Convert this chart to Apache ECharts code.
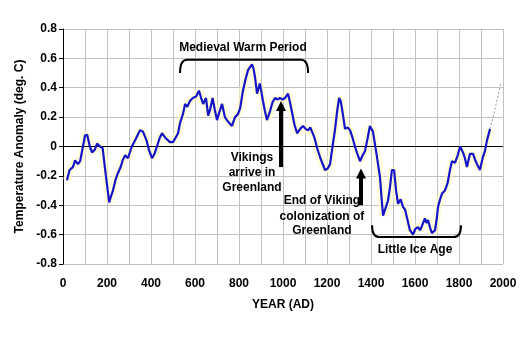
<!DOCTYPE html>
<html><head><meta charset="utf-8">
<script src="https://cdn.jsdelivr.net/npm/echarts@6/dist/echarts.min.js"></script>
<style>html,body{margin:0;padding:0;background:#fff}#c{width:529px;height:337px}</style>
</head><body><div id="c"></div>
<script>
// Reconstruction years (AD) and temperature anomaly (deg. C)
const years = [18,30,45,55,68,78,86,100,110,122,132,145,155,168,180,195,210,218,227,240,250,262,272,283,290,295,313,330,350,364,380,392,405,416,427,440,450,465,486,500,512,523,532,545,555,565,577,590,605,618,628,637,650,660,670,680,690,700,712,723,736,750,768,782,795,805,818,830,841,850,859,866,873,882,895,909,918,927,941,952,964,975,986,998,1009,1023,1032,1040,1052,1064,1078,1091,1103,1114,1124,1132,1143,1155,1170,1191,1203,1214,1225,1236,1246,1255,1262,1268,1282,1294,1305,1316,1327,1338,1350,1362,1373,1385,1395,1409,1425,1441,1448,1455,1466,1477,1486,1495,1505,1514,1523,1535,1545,1555,1566,1577,1591,1602,1614,1624,1632,1645,1652,1659,1668,1677,1691,1698,1705,1714,1723,1736,1748,1759,1768,1782,1794,1805,1818,1827,1836,1850,1864,1873,1882,1895,1909,1918,1927,1941];
const anomaly = [-0.23,-0.16,-0.14,-0.095,-0.12,-0.1,-0.09,0.075,0.08,0.0,-0.04,-0.02,0.02,0.0,-0.01,-0.2,-0.38,-0.34,-0.3,-0.22,-0.18,-0.14,-0.09,-0.06,-0.07,-0.08,0.0,0.05,0.11,0.1,0.04,-0.03,-0.08,-0.05,0.0,0.06,0.09,0.06,0.03,0.03,0.06,0.09,0.16,0.22,0.29,0.27,0.31,0.33,0.34,0.38,0.33,0.29,0.33,0.21,0.26,0.33,0.25,0.18,0.24,0.29,0.2,0.17,0.14,0.2,0.22,0.26,0.38,0.46,0.52,0.54,0.56,0.53,0.47,0.36,0.43,0.31,0.24,0.18,0.24,0.3,0.33,0.32,0.33,0.32,0.33,0.36,0.3,0.24,0.15,0.09,0.12,0.14,0.12,0.11,0.13,0.12,0.06,-0.01,-0.08,-0.16,-0.15,-0.12,0.0,0.11,0.24,0.33,0.31,0.26,0.12,0.13,0.11,0.06,0.0,-0.05,-0.1,-0.06,-0.03,0.06,0.14,0.1,-0.05,-0.21,-0.35,-0.47,-0.42,-0.37,-0.28,-0.16,-0.16,-0.3,-0.39,-0.36,-0.41,-0.43,-0.5,-0.57,-0.6,-0.56,-0.55,-0.57,-0.56,-0.49,-0.52,-0.5,-0.55,-0.59,-0.57,-0.5,-0.41,-0.36,-0.32,-0.3,-0.25,-0.16,-0.1,-0.11,-0.06,0.0,-0.04,-0.08,-0.14,-0.05,-0.05,-0.09,-0.12,-0.16,-0.07,-0.03,0.04,0.12];
// Dotted recent extension
const extYears = [1941,1958,1975,1991];
const extAnomaly = [0.12,0.22,0.33,0.43];
const xTicks = [0,200,400,600,800,1000,1200,1400,1600,1800,2000];
const yTicks = [-0.8,-0.6,-0.4,-0.2,0,0.2,0.4,0.6,0.8];

const mainData = years.map((y,i)=>[y,anomaly[i]]);
const extData = extYears.map((y,i)=>[y,extAnomaly[i]]);
const F = '"Liberation Sans", Arial, sans-serif';

const chart = echarts.init(document.getElementById('c'), null, {renderer:'canvas'});
chart.setOption({
  animation:false,
  backgroundColor:'#fff',
  grid:{left:63,right:26,top:29,bottom:73,containLabel:false},
  xAxis:{
    type:'value',min:0,max:2000,interval:100,
    name:'YEAR (AD)',nameLocation:'middle',nameGap:35,
    nameTextStyle:{fontFamily:F,fontWeight:'bold',fontSize:12,color:'#000'},
    axisLine:{show:false},axisTick:{show:false},
    axisLabel:{margin:14,fontFamily:F,fontWeight:'bold',fontSize:12,color:'#000',
      formatter:v=>xTicks.indexOf(v)>=0?String(v):''},
    splitLine:{show:true,lineStyle:{color:'#c0c0c0',width:1}}
  },
  yAxis:{
    type:'value',min:-0.8,max:0.8,interval:0.2,
    name:'Temperature Anomaly (deg. C)',nameLocation:'middle',nameGap:37,nameRotate:90,
    nameTextStyle:{fontFamily:F,fontWeight:'bold',fontSize:12,color:'#000'},
    axisLine:{show:true,lineStyle:{color:'#000',width:1}},
    axisTick:{show:true,length:4,lineStyle:{color:'#000'}},
    axisLabel:{margin:6,fontFamily:F,fontWeight:'bold',fontSize:12,color:'#000',
      formatter:v=>{const r=Math.round(v*10)/10;return r===0?'0':r.toFixed(1);}},
    splitLine:{show:true,lineStyle:{color:'#c0c0c0',width:1}}
  },
  series:[
    {type:'line',data:mainData,showSymbol:false,symbol:'none',silent:true,z:1,
     lineStyle:{color:'rgba(255,252,200,0.6)',width:8}},
    {type:'line',data:mainData,showSymbol:false,symbol:'none',z:3,
     lineStyle:{color:'#1515c8',width:2.2},
     markLine:{silent:true,symbol:'none',label:{show:false},z:2,
       lineStyle:{color:'#000',width:1,type:'solid'},data:[{yAxis:0}]}},
    {type:'line',data:extData,showSymbol:false,symbol:'none',z:3,
     lineStyle:{color:'#999',width:1,type:[2,2]}}
  ]
});

function P(x,y){return chart.convertToPixel({gridIndex:0},[x,y]);}
function txt(x,y,s){const p=P(x,y);return {type:'text',x:p[0],y:p[1],z:10,
  style:{text:s,fontFamily:F,fontWeight:'bold',fontSize:12,fill:'#000',align:'center',verticalAlign:'middle'}};}
function arrow(x,y0,y1){
  const a=P(x,y0),b=P(x,y1);
  const X=Math.round(a[0]);
  return [
    {type:'line',z:10,shape:{x1:X,y1:a[1],x2:X,y2:b[1]+9},style:{stroke:'#000',lineWidth:4}},
    {type:'polygon',z:10,shape:{points:[[X-5,b[1]+10],[X+5,b[1]+10],[X,b[1]]]},style:{fill:'#000'}}
  ];
}
function brace(x0,x1,yBar,yEnd){
  const a=P(x0,yBar),b=P(x1,yBar),e=P(x0,yEnd);
  const L=a[0],R=b[0],T=a[1],E=e[1];
  const r=7;
  const st={stroke:'#000',lineWidth:2,fill:null};
  return [
    {type:'bezierCurve',z:10,shape:{x1:L,y1:E,x2:L+r,y2:T,cpx1:L,cpy1:T},style:st},
    {type:'line',z:10,shape:{x1:L+r,y1:T,x2:R-r,y2:T},style:st},
    {type:'bezierCurve',z:10,shape:{x1:R-r,y1:T,x2:R,y2:E,cpx1:R,cpy1:T},style:st}
  ];
}
const g=[];
g.push(txt(818,0.675,'Medieval Warm Period'));
g.push(...brace(532,1114,0.59,0.50));
g.push(...arrow(991,-0.14,0.31));
g.push(txt(859,-0.075,'Vikings'));
g.push(txt(859,-0.176,'arrive in'));
g.push(txt(859,-0.278,'Greenland'));
g.push(...arrow(1355,-0.40,-0.15));
g.push(txt(1177,-0.366,'End of Viking'));
g.push(txt(1177,-0.475,'colonization of'));
g.push(txt(1177,-0.576,'Greenland'));
g.push(...brace(1405,1809,-0.617,-0.536));
g.push(txt(1600,-0.705,'Little Ice Age'));
chart.setOption({graphic:g});
</script></body></html>
